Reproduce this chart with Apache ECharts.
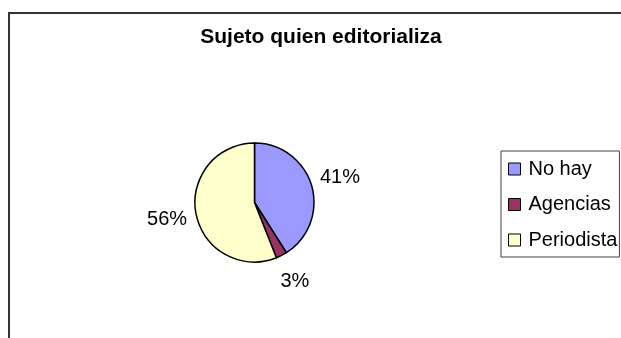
<!DOCTYPE html>
<html>
<head>
<meta charset="utf-8">
<script src="https://cdn.jsdelivr.net/npm/echarts@6/dist/echarts.min.js"></script>
<style>
  html, body { margin: 0; padding: 0; background: #ffffff; }
  #chart { width: 621px; height: 338px; }
</style>
</head>
<body>
<div id="chart"></div>
<script>
// Share of editorials by who signs them
const categories = ['No hay', 'Agencias', 'Periodista'];
const shares = [41, 3, 56];
const sliceColors = ['#9999FF', '#993366', '#FFFFCC'];
const titleText = 'Sujeto quien editorializa';

const FONT = '"Liberation Sans", Arial, sans-serif';
const center = [254.5, 202.5];

const sliceData = categories.map((name, i) => ({
  name: name,
  value: shares[i],
  itemStyle: { color: sliceColors[i] }
}));

const chart = echarts.init(document.getElementById('chart'), null, { renderer: 'canvas' });

chart.setOption({
  backgroundColor: '#ffffff',
  animation: false,
  graphic: [
    {
      // outer frame of the chart area
      type: 'rect',
      silent: true,
      shape: { x: 9, y: 13, width: 700, height: 400 },
      style: { fill: 'none', stroke: '#333333', lineWidth: 2 }
    },
    {
      type: 'text',
      x: 321,
      y: 27,
      silent: true,
      style: {
        text: titleText,
        textAlign: 'center',
        textVerticalAlign: 'top',
        font: 'bold 21px ' + FONT,
        fill: '#000000'
      }
    }
  ],
  legend: {
    orient: 'vertical',
    left: 501,
    top: 151,
    padding: [8, 2, 7, 7],
    itemWidth: 12,
    itemHeight: 12,
    itemGap: 15.5,
    icon: 'rect',
    borderColor: '#404040',
    borderWidth: 1,
    backgroundColor: '#ffffff',
    itemStyle: { borderColor: '#000000', borderWidth: 1 },
    textStyle: {
      fontFamily: FONT,
      fontSize: 20,
      lineHeight: 20,
      color: '#000000',
      padding: [0, 0, 0, 3]
    },
    data: categories
  },
  series: [
    {
      // the pie itself
      type: 'pie',
      center: center,
      radius: 59.5,
      startAngle: 90,
      clockwise: true,
      label: { show: false },
      labelLine: { show: false },
      itemStyle: { borderColor: '#000000', borderWidth: 1.5 },
      emphasis: { disabled: true },
      data: sliceData
    },
    {
      // transparent ring carrying the percentage labels just outside the pie
      type: 'pie',
      center: center,
      radius: [75, 97],
      startAngle: 90,
      clockwise: true,
      silent: true,
      emphasis: { disabled: true },
      itemStyle: { color: 'rgba(0,0,0,0)', borderWidth: 0 },
      labelLine: { show: false },
      label: {
        show: true,
        position: 'inside',
        fontFamily: FONT,
        fontSize: 20,
        color: '#000000',
        formatter: p => Math.round(p.percent) + '%'
      },
      data: categories.map((name, i) => ({ name: name, value: shares[i] }))
    }
  ]
});
</script>
</body>
</html>
